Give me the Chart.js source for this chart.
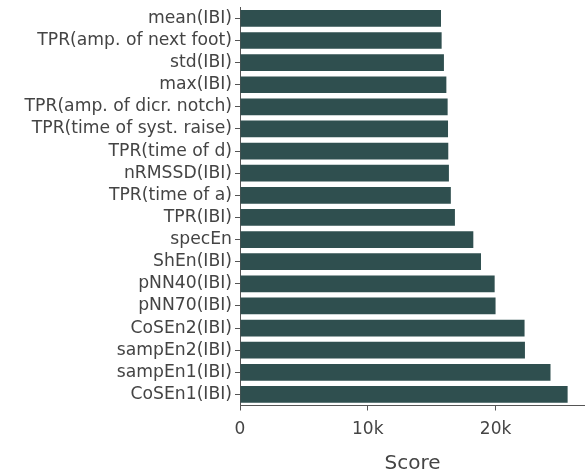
<!DOCTYPE html>
<html>
<head>
<meta charset="utf-8">
<script src="https://cdn.jsdelivr.net/npm/chart.js@4"></script>
<style>
  html, body { margin: 0; padding: 0; background: #fff; }
  #wrap { width: 585px; height: 476px; }
</style>
</head>
<body>
<div id="wrap"><canvas id="scoreChart"></canvas></div>
<script>
const features = [
    'mean(IBI)', 'TPR(amp. of next foot)', 'std(IBI)', 'max(IBI)',
    'TPR(amp. of dicr. notch)', 'TPR(time of syst. raise)', 'TPR(time of d)',
    'nRMSSD(IBI)', 'TPR(time of a)', 'TPR(IBI)', 'specEn', 'ShEn(IBI)',
    'pNN40(IBI)', 'pNN70(IBI)', 'CoSEn2(IBI)', 'sampEn2(IBI)', 'sampEn1(IBI)',
    'CoSEn1(IBI)'
];
const scores = [
    15730, 15780, 15960, 16150, 16250, 16280, 16300, 16350, 16500, 16820,
    18260, 18860, 19930, 20000, 22270, 22300, 24300, 25640
];
const xTicks = [0, 10000, 20000];
const xMax = 27000;

const textColor = '#444';
const axisColor = '#555';
const fontFamily = '"DejaVu Sans", Verdana, sans-serif';

const ctx = document.getElementById('scoreChart').getContext('2d');

const chart = new Chart(ctx, {
    type: 'bar',
    data: {
        labels: features,
        datasets: [{
            label: 'Score',
            data: scores,
            backgroundColor: '#2f4f4f',
            borderWidth: 0,
            barPercentage: 0.755,
            categoryPercentage: 1.0
        }]
    },
    options: {
        indexAxis: 'y',
        responsive: true,
        maintainAspectRatio: false,
        animation: false,
        layout: { padding: { top: 7.3, right: 0, left: 0, bottom: 0 } },
        plugins: {
            legend: { display: false },
            tooltip: { enabled: false }
        },
        scales: {
            y: {
                grid: {
                    offset: false,
                    drawOnChartArea: false,
                    drawTicks: true,
                    tickLength: 5,
                    color: axisColor
                },
                border: { display: true, color: axisColor, width: 1 },
                ticks: {
                    color: textColor,
                    padding: 3,
                    autoSkip: false,
                    font: { family: fontFamily, size: 17.2 }
                },
                afterFit: (scale) => {
                    scale.width = 240;
                    scale.paddingTop = 0;
                    scale.paddingBottom = 0;
                }
            },
            x: {
                min: 0,
                max: xMax,
                afterBuildTicks: (scale) => {
                    scale.ticks = xTicks.map(v => ({ value: v }));
                },
                grid: {
                    drawOnChartArea: false,
                    drawTicks: true,
                    tickLength: 5,
                    color: axisColor
                },
                border: { display: true, color: axisColor, width: 1 },
                ticks: {
                    color: textColor,
                    padding: 9,
                    font: { family: fontFamily, size: 17 },
                    callback: (v) => v === 0 ? '0' : (v / 1000) + 'k'
                },
                title: {
                    display: true,
                    text: 'Score',
                    color: textColor,
                    padding: { top: 13, bottom: 0 },
                    font: { family: fontFamily, size: 20 }
                },
                afterFit: (scale) => {
                    scale.height = 70.5;
                    scale.paddingLeft = 0;
                    scale.paddingRight = 0;
                }
            }
        }
    }
});
</script>
</body>
</html>
